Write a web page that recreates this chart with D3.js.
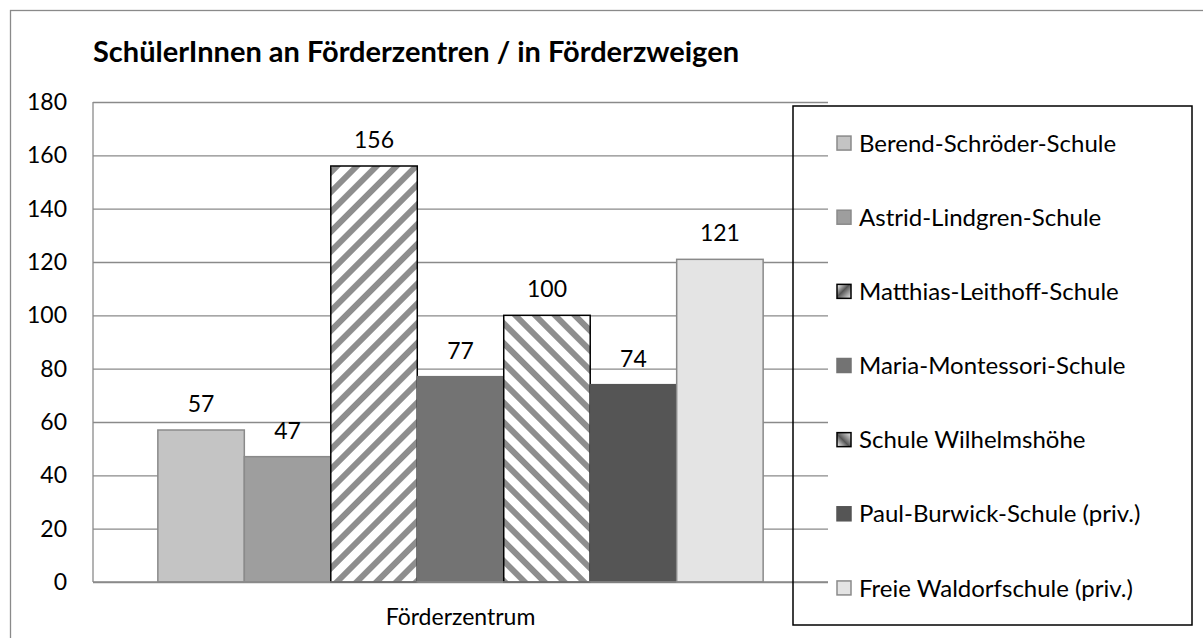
<!DOCTYPE html>
<meta charset="utf-8">
<style>
  body { margin: 0; background: #fff; }
  text { font-family: Lato, "Open Sans", sans-serif; fill: #000; }
</style>
<script src="https://d3js.org/d3.v7.min.js"></script>
<div id="chart"></div>
<script>
// data
var categories = ["Förderzentrum"];
var schools = ["Berend-Schröder-Schule", "Astrid-Lindgren-Schule", "Matthias-Leithoff-Schule",
               "Maria-Montessori-Schule", "Schule Wilhelmshöhe", "Paul-Burwick-Schule (priv.)",
               "Freie Waldorfschule (priv.)"];
var values = [57, 47, 156, 77, 100, 74, 121];
var yTicks = [0, 20, 40, 60, 80, 100, 120, 140, 160, 180];
var title = "SchülerInnen an Förderzentren / in Förderzweigen";

// look of each series
var fills = ["#c4c4c4", "#9e9e9e", "url(#hatchUp)", "#737373", "url(#hatchDown)", "#555555", "#e4e4e4"];
var strokes = ["#8a8a8a", "#8a8a8a", "#000", "#737373", "#000", "#555555", "#8a8a8a"];
var swatchFills = ["#c4c4c4", "#9e9e9e", "url(#swUp)", "#737373", "url(#swDown)", "#555555", "#e4e4e4"];

var width = 1203, height = 638;
var margin = {top: 102, right: 375, bottom: 56, left: 93};

var svg = d3.select("#chart").append("svg")
    .attr("width", width)
    .attr("height", height);

// hatch patterns
var defs = svg.append("defs");
[["hatchUp", 45], ["hatchDown", -45]].forEach(function (p) {
  var pat = defs.append("pattern")
      .attr("id", p[0])
      .attr("patternUnits", "userSpaceOnUse")
      .attr("width", 14).attr("height", 14)
      .attr("patternTransform", "rotate(" + p[1] + ")");
  pat.append("rect").attr("width", 14).attr("height", 14).attr("fill", "#fff");
  pat.append("rect").attr("x", 1).attr("width", 6).attr("height", 14).attr("fill", "#8e8e8e");
});
[["swUp", "0%", "0%", "100%", "100%"], ["swDown", "0%", "100%", "100%", "0%"]].forEach(function (g) {
  var lg = defs.append("linearGradient").attr("id", g[0])
      .attr("x1", g[1]).attr("y1", g[2]).attr("x2", g[3]).attr("y2", g[4]);
  lg.append("stop").attr("offset", "0%").attr("stop-color", "#fff");
  lg.append("stop").attr("offset", "45%").attr("stop-color", "#555");
  lg.append("stop").attr("offset", "100%").attr("stop-color", "#eee");
});

// outer frame
svg.append("rect")
    .attr("x", 10.5).attr("y", 10.5)
    .attr("width", 1220).attr("height", 660)
    .attr("fill", "none").attr("stroke", "#8a8a8a").attr("stroke-width", 1.3);

svg.append("text")
    .attr("x", 93).attr("y", 62)
    .attr("font-size", "29px").attr("font-weight", "bold")
    .text(title);

var plotW = width - margin.left - margin.right,
    plotH = height - margin.top - margin.bottom;

var g = svg.append("g").attr("transform", "translate(" + margin.left + "," + margin.top + ")");

var x0 = d3.scaleBand().domain(categories).range([0, plotW]).paddingInner(0).paddingOuter(0.75 / 7);
var x1 = d3.scaleBand().domain(schools).range([0, x0.bandwidth()]);
var y = d3.scaleLinear().domain([0, 180]).range([plotH, 0]);

// gridlines + tick labels
var yAxis = g.append("g")
    .call(d3.axisLeft(y).tickValues(yTicks).tickSize(-plotW).tickSizeOuter(0).tickPadding(26));
yAxis.select(".domain").remove();
yAxis.selectAll(".tick line").attr("stroke", "#8a8a8a").attr("stroke-width", 1.3);
yAxis.selectAll(".tick text")
    .attr("font-size", "23px").attr("font-family", "Lato, sans-serif").attr("fill", "#000");

// bars
var grp = g.selectAll(".cat").data(categories).enter().append("g")
    .attr("transform", function (d) { return "translate(" + x0(d) + ",0)"; });

grp.selectAll("rect")
    .data(schools.map(function (s, i) { return {name: s, value: values[i], i: i}; }))
    .enter().append("rect")
    .attr("x", function (d) { return x1(d.name); })
    .attr("y", function (d) { return y(d.value); })
    .attr("width", x1.bandwidth())
    .attr("height", function (d) { return plotH - y(d.value); })
    .attr("fill", function (d) { return fills[d.i]; })
    .attr("stroke", function (d) { return strokes[d.i]; })
    .attr("stroke-width", 1.5);

grp.selectAll(".val")
    .data(schools.map(function (s, i) { return {name: s, value: values[i]}; }))
    .enter().append("text")
    .attr("x", function (d) { return x1(d.name) + x1.bandwidth() / 2; })
    .attr("y", function (d) { return y(d.value) - 18; })
    .attr("text-anchor", "middle")
    .attr("font-size", "23px")
    .text(function (d) { return d.value; });

// axis lines
g.append("line").attr("x1", 0).attr("x2", 0).attr("y1", 0).attr("y2", plotH)
    .attr("stroke", "#8a8a8a").attr("stroke-width", 1.3);
g.append("line").attr("x1", 0).attr("x2", plotW).attr("y1", plotH).attr("y2", plotH)
    .attr("stroke", "#8a8a8a").attr("stroke-width", 1.3);

g.selectAll(".catlab").data(categories).enter().append("text")
    .attr("x", function (d) { return x0(d) + x0.bandwidth() / 2; })
    .attr("y", plotH + 43)
    .attr("text-anchor", "middle")
    .attr("font-size", "23px")
    .text(function (d) { return d; });

// legend
var lg = {x: 793, y: 106, w: 399, h: 519};
svg.append("rect")
    .attr("x", lg.x).attr("y", lg.y).attr("width", lg.w).attr("height", lg.h)
    .attr("fill", "none").attr("stroke", "#000").attr("stroke-width", 1.5);

var rowH = lg.h / schools.length;
var item = svg.selectAll(".leg").data(schools).enter().append("g")
    .attr("transform", function (d, i) { return "translate(" + (lg.x + 44) + "," + (lg.y + rowH * (i + 0.5)) + ")"; });
item.append("rect")
    .attr("x", 0).attr("y", -7).attr("width", 14).attr("height", 14)
    .attr("fill", function (d, i) { return swatchFills[i]; })
    .attr("stroke", function (d, i) { return strokes[i]; })
    .attr("stroke-width", 1.5);
item.append("text")
    .attr("x", 22).attr("dy", "0.36em")
    .attr("font-size", "24px")
    .text(function (d) { return d; });
</script>
